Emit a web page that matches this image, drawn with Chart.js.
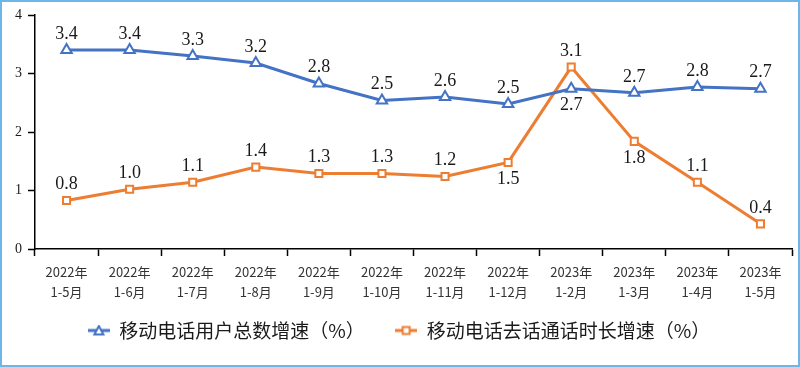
<!DOCTYPE html>
<html>
<head>
<meta charset="utf-8">
<script src="https://cdn.jsdelivr.net/npm/chart.js@4/dist/chart.umd.min.js"></script>
<style>
  html, body { margin: 0; padding: 0; background: #fff; }
  #wrap { width: 800px; height: 367px; position: relative; }
</style>
</head>
<body>
<div id="wrap"><canvas id="growthChart" width="800" height="367"></canvas></div>
<script>
// categories
const years = ['2022年', '2022年', '2022年', '2022年', '2022年', '2022年', '2022年', '2022年', '2023年', '2023年', '2023年', '2023年'];
const periods = ['1-5月', '1-6月', '1-7月', '1-8月', '1-9月', '1-10月', '1-11月', '1-12月', '1-2月', '1-3月', '1-4月', '1-5月'];

// series
const userGrowth = [3.40, 3.40, 3.30, 3.18, 2.83, 2.54, 2.60, 2.48, 2.74, 2.67, 2.77, 2.74];
const callGrowth = [0.83, 1.02, 1.14, 1.40, 1.29, 1.29, 1.24, 1.48, 3.11, 1.84, 1.14, 0.43];

// label positions (above / below point)
const userLabelPos = ['up', 'up', 'up', 'up', 'up', 'up', 'up', 'up', 'down', 'up', 'up', 'up'];
const callLabelPos = ['up', 'up', 'up', 'up', 'up', 'up', 'up', 'down', 'up', 'down', 'up', 'up'];

const yTicks = [0, 1, 2, 3, 4];

const BLUE = '#4472C4';
const ORANGE = '#ED7D31';

// legend icons: short line + marker
function legendIcon(color, shape) {
  const c = document.createElement('canvas');
  c.width = 22; c.height = 12;
  const g = c.getContext('2d');
  g.strokeStyle = color;
  g.lineWidth = 3;
  g.beginPath(); g.moveTo(0, 6); g.lineTo(22, 6); g.stroke();
  g.fillStyle = '#fff';
  g.lineWidth = 2;
  g.beginPath();
  if (shape === 'triangle') {
    g.moveTo(11, 1.5); g.lineTo(15.5, 10); g.lineTo(6.5, 10); g.closePath();
  } else {
    g.rect(7.5, 2.5, 7, 7);
  }
  g.fill(); g.stroke();
  return c;
}

// value labels
const valueLabels = {
  id: 'valueLabels',
  afterDatasetsDraw(chart) {
    const ctx = chart.ctx;
    ctx.save();
    ctx.font = '18px "Liberation Serif", serif';
    ctx.fillStyle = '#1a1a1a';
    ctx.textAlign = 'center';
    ctx.textBaseline = 'middle';
    chart.data.datasets.forEach((ds, i) => {
      const meta = chart.getDatasetMeta(i);
      const pos = i === 0 ? userLabelPos : callLabelPos;
      meta.data.forEach((pt, j) => {
        const dy = pos[j] === 'up' ? -16 : 17;
        ctx.fillText(ds.data[j].toFixed(1), pt.x, pt.y + dy);
      });
    });
    ctx.restore();
  }
};

// outer frame
const frame = {
  id: 'frame',
  afterDraw(chart) {
    const ctx = chart.ctx;
    ctx.save();
    ctx.strokeStyle = '#6db6ea';
    ctx.lineWidth = 2;
    ctx.strokeRect(1, 1, chart.width - 2, chart.height - 2);
    ctx.restore();
  }
};

const ctx = document.getElementById('growthChart').getContext('2d');
new Chart(ctx, {
  type: 'line',
  data: {
    labels: years.map((y, i) => [y, periods[i]]),
    datasets: [
      {
        label: '移动电话用户总数增速（%）',
        data: userGrowth,
        borderColor: BLUE,
        borderWidth: 3,
        pointStyle: 'triangle',
        pointRadius: 6,
        pointBorderWidth: 2,
        pointBackgroundColor: '#fff',
        pointBorderColor: BLUE,
        tension: 0
      },
      {
        label: '移动电话去话通话时长增速（%）',
        data: callGrowth,
        borderColor: ORANGE,
        borderWidth: 3,
        pointStyle: 'rect',
        pointRadius: 5,
        pointBorderWidth: 2,
        pointBackgroundColor: '#fff',
        pointBorderColor: ORANGE,
        tension: 0
      }
    ]
  },
  options: {
    responsive: false,
    animation: false,
    layout: { padding: { left: 2, right: 4, top: 15, bottom: 17 } },
    plugins: {
      tooltip: { enabled: false },
      legend: {
        position: 'bottom',
        labels: {
          usePointStyle: true,
          pointStyleWidth: 22,
          padding: 17,
          color: '#1a1a1a',
          font: { size: 19, family: '"Noto Sans CJK SC", sans-serif' },
          generateLabels(chart) {
            return chart.data.datasets.map((ds, i) => ({
              // a little extra room after the first item
              text: i === 0 ? ds.label + '\u2002\u2009' : ds.label,
              pointStyle: legendIcon(ds.borderColor, i === 0 ? 'triangle' : 'square'),
              fillStyle: '#fff',
              strokeStyle: ds.borderColor,
              lineWidth: 0,
              fontColor: '#1a1a1a',
              datasetIndex: i
            }));
          }
        }
      }
    },
    scales: {
      x: {
        offset: true,
        grid: {
          display: true,
          offset: true,
          drawOnChartArea: false,
          drawTicks: true,
          tickLength: 7,
          color: '#000',
          tickWidth: 1.5
        },
        border: { color: '#000', width: 1.5 },
        ticks: {
          color: '#333',
          padding: 6,
          maxRotation: 0,
          autoSkip: false,
          font: { size: 13, family: '"Noto Sans CJK SC", sans-serif', lineHeight: 1.55 }
        },
        afterFit(scale) { scale.height = 55; }
      },
      y: {
        min: 0,
        max: 4,
        afterBuildTicks(scale) { scale.ticks = yTicks.map(v => ({ value: v })); },
        grid: {
          display: true,
          drawOnChartArea: false,
          drawTicks: true,
          tickLength: 7,
          color: '#000',
          tickWidth: 1.5
        },
        border: { color: '#000', width: 1.5 },
        ticks: {
          color: '#1a1a1a',
          padding: 6,
          font: { size: 14, family: '"Liberation Serif", serif' }
        },
        afterFit(scale) { scale.width = 33; }
      }
    }
  },
  plugins: [valueLabels, frame]
});
</script>
</body>
</html>
